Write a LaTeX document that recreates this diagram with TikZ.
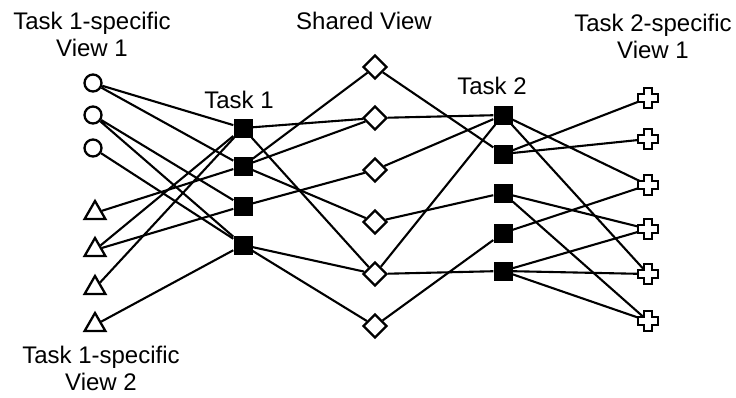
\documentclass[tikz,border=0pt]{standalone}
\usepackage{fontspec}
\setmainfont{Liberation Sans}
\usetikzlibrary{shapes.geometric,backgrounds}

\tikzset{
  viewone/.style={circle, draw, line width=2.3pt, fill=white, minimum size=17pt, inner sep=0pt},
  viewtwo/.style={regular polygon, regular polygon sides=3, draw, line width=2.3pt, fill=white, minimum size=24pt, inner sep=0pt},
  taskunit/.style={rectangle, fill=black, minimum size=19pt, inner sep=0pt},
  shared/.style={diamond, draw, line width=2.3pt, fill=white, minimum width=24pt, minimum height=24pt, inner sep=0pt},
  viewthree/.style={circle, minimum size=4pt, inner sep=0pt},
  plusmark/.style={draw, line width=2.3pt, fill=white},
  link/.style={line width=2.1pt},
  lbl/.style={font=\fontsize{24}{27}\selectfont, align=center, inner sep=0pt}
}

\begin{document}
\begin{tikzpicture}[x=1pt, y=-1pt]
\useasboundingbox (0,0) rectangle (736,397);

% Labels
\node[lbl] (lblviewone) at (92,34) {Task 1-specific\\View 1};
\node[lbl] (lblviewtwo) at (101,368) {Task 1-specific\\View 2};
\node[lbl] (lbltaskone) at (239,100) {Task 1};
\node[lbl] (lblshared) at (364,21) {Shared View};
\node[lbl] (lbltasktwo) at (492,86) {Task 2};
\node[lbl] (lblviewthree) at (653,36) {Task 2-specific\\View 1};

% Task 1-specific view 1
\node[viewone] (o1) at (93,83) {};
\node[viewone] (o2) at (93,115) {};
\node[viewone] (o3) at (93,148) {};

% Task 1-specific view 2
\node[viewtwo] (t1) at (95,213) {};
\node[viewtwo] (t2) at (95,250) {};
\node[viewtwo] (t3) at (95,288) {};
\node[viewtwo] (t4) at (95,325) {};

% Task 1 units
\node[taskunit] (a1) at (243,128) {};
\node[taskunit] (a2) at (243,166) {};
\node[taskunit] (a3) at (243,206) {};
\node[taskunit] (a4) at (243,245) {};

% Shared view
\node[shared] (d1) at (375,67) {};
\node[shared] (d2) at (375,118) {};
\node[shared] (d3) at (375,170) {};
\node[shared] (d4) at (375,222) {};
\node[shared] (d5) at (375,274) {};
\node[shared] (d6) at (375,326) {};

% Task 2 units
\node[taskunit] (b1) at (503,115) {};
\node[taskunit] (b2) at (503,154) {};
\node[taskunit] (b3) at (503,193) {};
\node[taskunit] (b4) at (503,233) {};
\node[taskunit] (b5) at (503,271) {};

% Task 2-specific view 1
\node[viewthree] (c1) at (648,98) {};
\node[viewthree] (c2) at (648,139) {};
\node[viewthree] (c3) at (648,185) {};
\node[viewthree] (c4) at (648,229) {};
\node[viewthree] (c5) at (648,274) {};
\node[viewthree] (c6) at (648,321) {};
\foreach \i in {1,...,6}
  \draw[plusmark, shift={(c\i)}] (-4,-10) -- (4,-10) -- (4,-4) -- (10,-4) -- (10,4) -- (4,4)
    -- (4,10) -- (-4,10) -- (-4,4) -- (-10,4) -- (-10,-4) -- (-4,-4) -- cycle;

% Connections
\begin{scope}[on background layer]
  % view 1 and view 2 -> task 1
  \draw[link] (o1) -- (a1) (o1) -- (a2);
  \draw[link] (o2) -- (a3) (o2) -- (a4);
  \draw[link] (o3) -- (a4);
  \draw[link] (t1) -- (a2);
  \draw[link] (t2) -- (a1) (t2) -- (a3);
  \draw[link] (t3) -- (a1);
  \draw[link] (t4) -- (a4);
  % task 1 -> shared view
  \draw[link] (a1) -- (d2) (a1) -- (d5);
  \draw[link] (a2) -- (d1) (a2) -- (d2) (a2) -- (d4);
  \draw[link] (a3) -- (d3);
  \draw[link] (a4) -- (d5) (a4) -- (d6);
  % shared view -> task 2
  \draw[link] (d1) -- (b2);
  \draw[link] (d2) -- (b1);
  \draw[link] (d3) -- (b1);
  \draw[link] (d4) -- (b3);
  \draw[link] (d5) -- (b1) (d5) -- (b5);
  \draw[link] (d6) -- (b4);
  % task 2 -> view 1
  \draw[link] (b1) -- (c3) (b1) -- (c5);
  \draw[link] (b2) -- (c1) (b2) -- (c2);
  \draw[link] (b3) -- (c4) (b3) -- (c6);
  \draw[link] (b4) -- (c3);
  \draw[link] (b5) -- (c4) (b5) -- (c5) (b5) -- (c6);
\end{scope}
\end{tikzpicture}
\end{document}
